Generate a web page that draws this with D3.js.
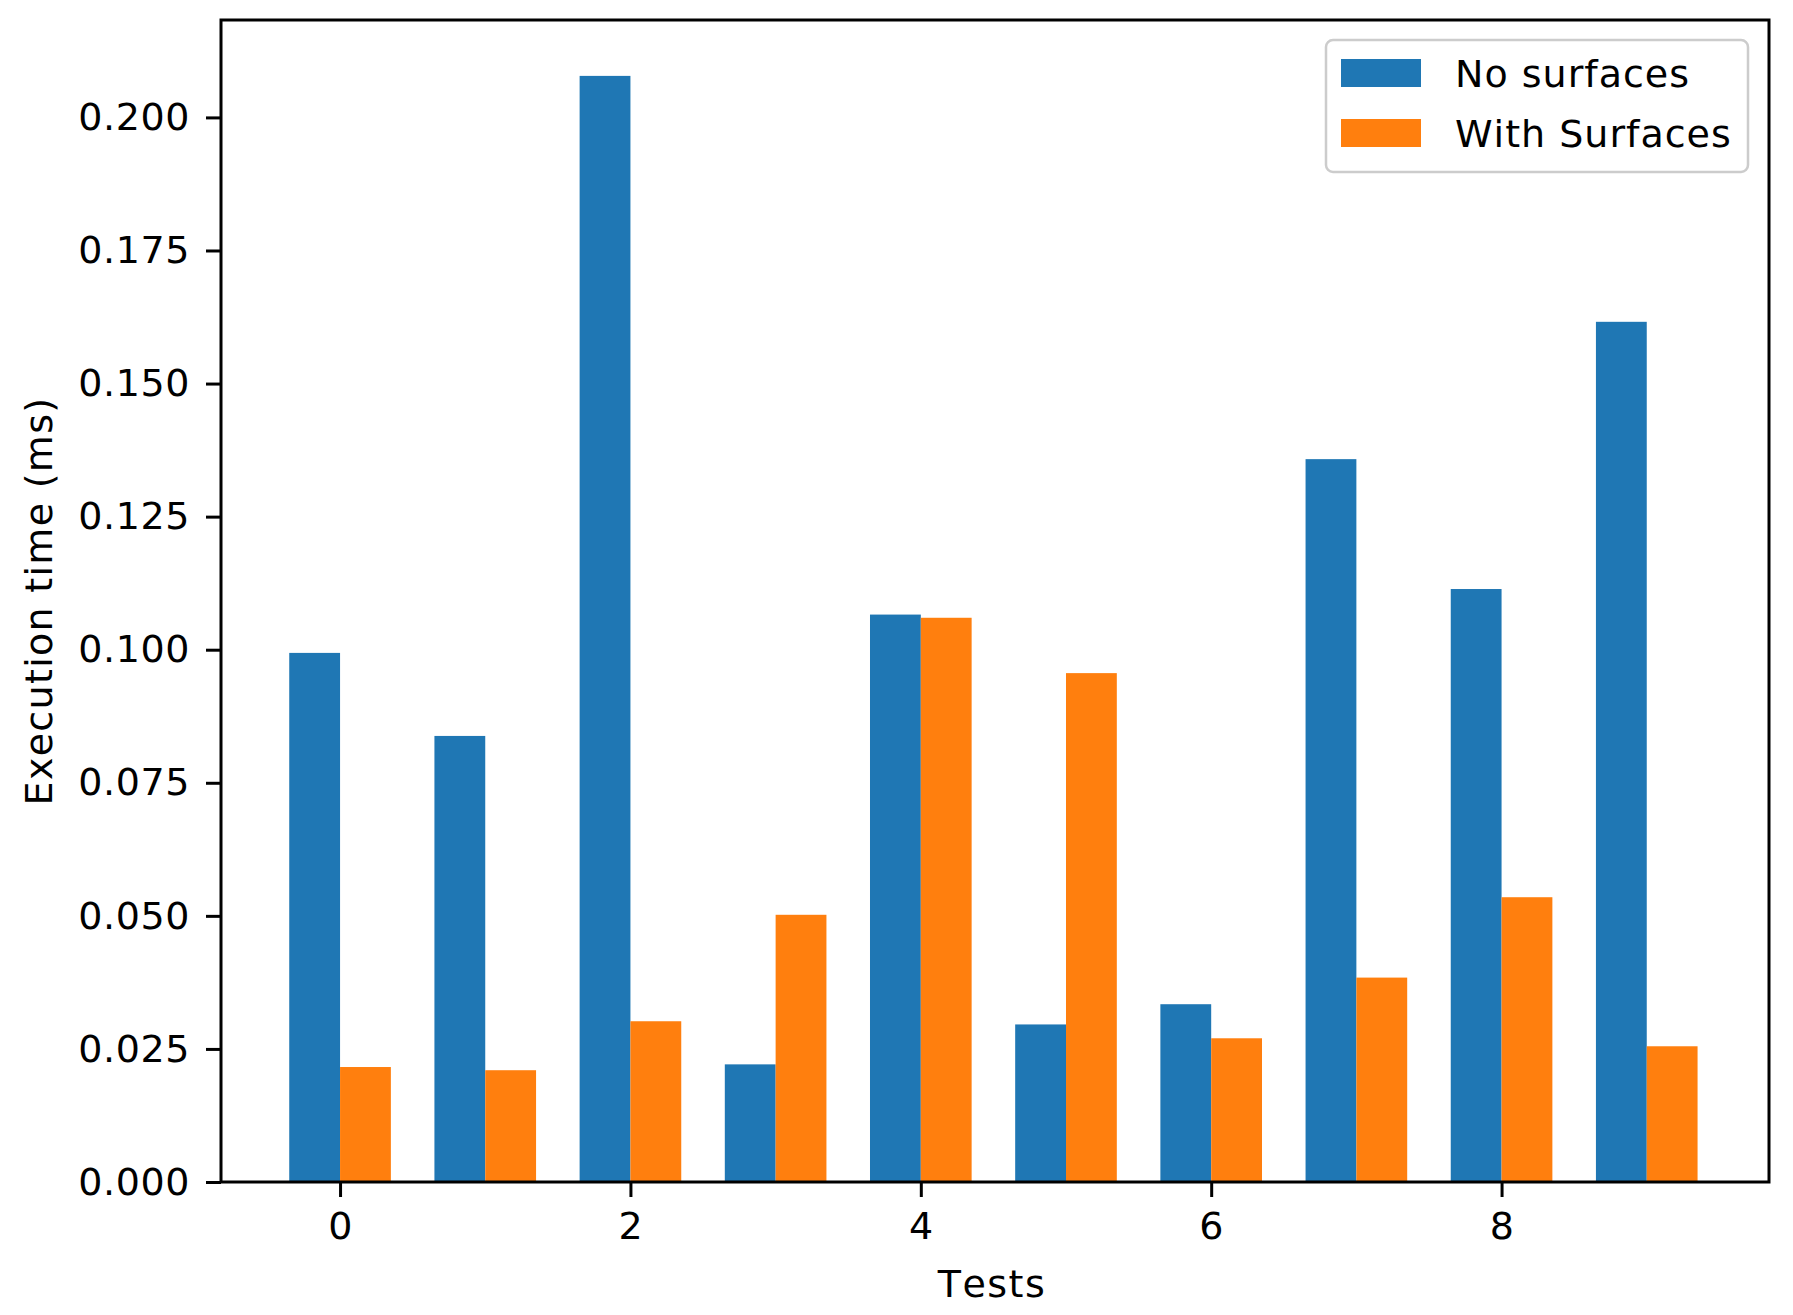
<!DOCTYPE html>
<html>
<head>
<meta charset="utf-8">
<script src="https://cdn.jsdelivr.net/npm/d3@7"></script>
<style>
  body { margin: 0; background: #fff; }
  text { font-family: "DejaVu Sans", sans-serif; fill: #000; font-kerning: none; }
</style>
</head>
<body>
<div class="chart"></div>
<script>
var tests = [0, 1, 2, 3, 4, 5, 6, 7, 8, 9];
var noSurfaces = [0.0994, 0.0838, 0.2078, 0.0221, 0.1066, 0.0296, 0.0334, 0.1358, 0.1114, 0.1616];
var withSurfaces = [0.0216, 0.0210, 0.0302, 0.0502, 0.1060, 0.0956, 0.0270, 0.0384, 0.0535, 0.0255];
var seriesNames = ["No surfaces", "With Surfaces"];
var xTicks = [0, 2, 4, 6, 8];
var yTicks = [0, 0.025, 0.05, 0.075, 0.1, 0.125, 0.15, 0.175, 0.2];

var svgWidth = 1793;
var svgHeight = 1315;
var barWidth = 0.35;
var colors = ["#1f77b4", "#ff7f0e"];

// plot area edges (window.top is reserved, so keep them in an object)
var plot = { left: 221, right: 1769, top: 20, bottom: 1182 };

var svg = d3.select(".chart")
  .append("svg")
  .attr("width", svgWidth)
  .attr("height", svgHeight);

var xScale = d3.scaleLinear()
  .domain([-0.82, 9.842])
  .range([plot.left, plot.right]);

var yScale = d3.scaleLinear()
  .domain([0, 0.2183])
  .range([plot.bottom, plot.top]);

// bars
svg.append("g").selectAll("rect")
  .data(tests)
  .enter()
  .append("rect")
  .attr("x", d => xScale(d - barWidth))
  .attr("y", (d, i) => yScale(noSurfaces[i]))
  .attr("width", d => xScale(d) - xScale(d - barWidth))
  .attr("height", (d, i) => yScale(0) - yScale(noSurfaces[i]))
  .attr("fill", colors[0]);

svg.append("g").selectAll("rect")
  .data(tests)
  .enter()
  .append("rect")
  .attr("x", d => xScale(d))
  .attr("y", (d, i) => yScale(withSurfaces[i]))
  .attr("width", d => xScale(d + barWidth) - xScale(d))
  .attr("height", (d, i) => yScale(0) - yScale(withSurfaces[i]))
  .attr("fill", colors[1]);

// axes
var bottomAxis = d3.axisBottom(xScale)
  .tickValues(xTicks)
  .tickFormat(d3.format("d"))
  .tickSize(15)
  .tickSizeOuter(0)
  .tickPadding(15);

var leftAxis = d3.axisLeft(yScale)
  .tickValues(yTicks)
  .tickFormat(d3.format(".3f"))
  .tickSize(15)
  .tickSizeOuter(0)
  .tickPadding(16);

var gx = svg.append("g")
  .attr("transform", `translate(0, ${plot.bottom})`)
  .call(bottomAxis);

var gy = svg.append("g")
  .attr("transform", `translate(${plot.left}, 0)`)
  .call(leftAxis);

[gx, gy].forEach(function(g) {
  g.select(".domain").remove();
  g.selectAll(".tick line").attr("stroke", "#000").attr("stroke-width", 3);
  g.selectAll(".tick text")
    .style("font-family", "DejaVu Sans")
    .style("font-size", "38px")
    .style("letter-spacing", "0.6px")
    .attr("fill", "#000");
});

// frame
svg.append("rect")
  .attr("x", plot.left)
  .attr("y", plot.top)
  .attr("width", plot.right - plot.left)
  .attr("height", plot.bottom - plot.top)
  .attr("fill", "none")
  .attr("stroke", "#000")
  .attr("stroke-width", 3);

// axis labels
svg.append("text")
  .attr("transform", `translate(52, ${(plot.top + plot.bottom) / 2}) rotate(-90)`)
  .attr("text-anchor", "middle")
  .style("font-size", "38px")
  .style("letter-spacing", "1.3px")
  .text("Execution time (ms)");

svg.append("text")
  .attr("x", (plot.left + plot.right) / 2 - 3)
  .attr("y", 1297)
  .attr("text-anchor", "middle")
  .style("font-size", "38px")
  .style("letter-spacing", "1.5px")
  .text("Tests");

// legend
var legend = svg.append("g");

legend.append("rect")
  .attr("x", 1326)
  .attr("y", 40)
  .attr("width", 422)
  .attr("height", 132)
  .attr("rx", 7)
  .attr("fill", "#fff")
  .attr("fill-opacity", 0.8)
  .attr("stroke", "#cccccc")
  .attr("stroke-width", 2.5);

var items = legend.selectAll(".item")
  .data(seriesNames)
  .enter()
  .append("g")
  .attr("class", "item")
  .attr("transform", (d, i) => `translate(0, ${i * 60})`);

items.append("rect")
  .attr("x", 1341)
  .attr("y", 59)
  .attr("width", 80)
  .attr("height", 28)
  .attr("fill", (d, i) => colors[i]);

items.append("text")
  .attr("x", 1455)
  .attr("y", 87)
  .style("font-size", "38px")
  .style("letter-spacing", "1px")
  .text(d => d);
</script>
</body>
</html>
